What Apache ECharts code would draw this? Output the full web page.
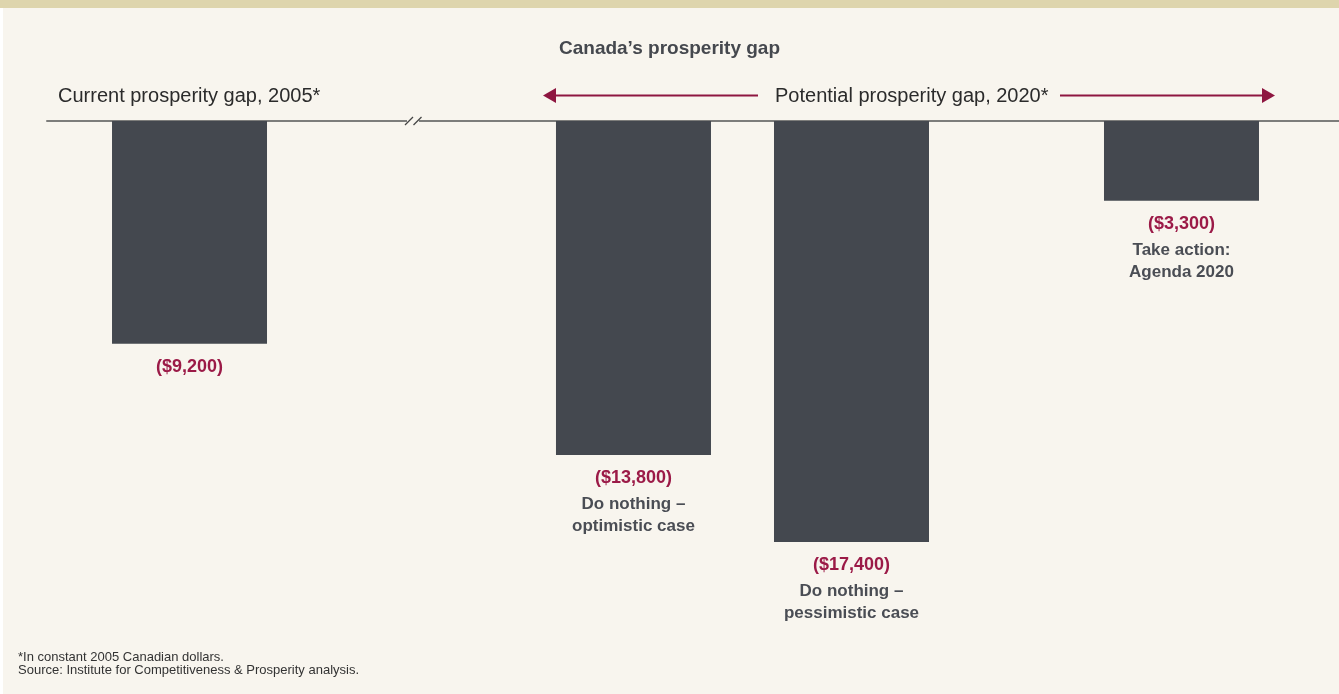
<!DOCTYPE html>
<html>
<head>
<meta charset="utf-8">
<script src="https://cdn.jsdelivr.net/npm/echarts@6/dist/echarts.min.js"></script>
<style>
  html, body { margin: 0; padding: 0; background: #f8f5ee; }
  #chart { width: 1339px; height: 694px; }
</style>
</head>
<body>
<div id="chart"></div>
<script>
// ---- data ----
const categories = ['Current prosperity gap, 2005', 'Do nothing – optimistic case', 'Do nothing – pessimistic case', 'Take action: Agenda 2020'];
const values = [-9200, -13800, -17400, -3300];
const descriptions = [[], ['Do nothing –', 'optimistic case'], ['Do nothing –', 'pessimistic case'], ['Take action:', 'Agenda 2020']];
const chartTitle = 'Canada’s prosperity gap';
const currentLabel = 'Current prosperity gap, 2005*';
const potentialLabel = 'Potential prosperity gap, 2020*';
const footnotes = ['*In constant 2005 Canadian dollars.', 'Source: Institute for Competitiveness & Prosperity analysis.'];

// ---- layout (horizontal slot for each bar) ----
const SLOT = [0, 4.028, 6.006, 9];

const RED = '#8e1640';
const BG = '#f8f5ee';
const FONT = '"Liberation Sans", Arial, Helvetica, sans-serif';

const fmt = v => '($' + Math.abs(v).toLocaleString('en-US') + ')';

const chart = echarts.init(document.getElementById('chart'));
chart.setOption({
  backgroundColor: BG,
  animation: false,
  textStyle: { fontFamily: FONT },
  title: {
    text: chartTitle,
    left: 'center',
    top: 34,
    textStyle: { fontFamily: FONT, fontSize: 19, fontWeight: 'bold', color: '#45484e' }
  },
  grid: { left: 47, right: 0, top: 121, bottom: 89 },
  xAxis: {
    type: 'value',
    min: -1.293,
    max: 10.429,
    position: 'top',
    axisLine: { show: true, onZero: false, lineStyle: { color: '#7d7d7b', width: 2 } },
    axisTick: { show: false },
    axisLabel: { show: false },
    splitLine: { show: false }
  },
  yAxis: {
    type: 'value',
    min: -20000,
    max: 0,
    show: false,
    splitLine: { show: false }
  },
  series: [{
    type: 'bar',
    barWidth: 155,
    z: 1,
    itemStyle: { color: '#44484f' },
    data: values.map((v, i) => ({ name: categories[i], value: [SLOT[i], v] })),
    label: {
      show: true,
      position: 'bottom',
      distance: 8,
      align: 'center',
      formatter: p => {
        const i = p.dataIndex;
        let s = '{v|' + fmt(values[i]) + '}';
        descriptions[i].forEach(line => { s += '\n{d|' + line + '}'; });
        return s;
      },
      rich: {
        v: { fontFamily: FONT, fontSize: 18, fontWeight: 'bold', color: '#9b1a47', lineHeight: 30, align: 'center' },
        d: { fontFamily: FONT, fontSize: 17, fontWeight: 'bold', color: '#4a4d54', lineHeight: 22, align: 'center' }
      }
    }
  }],
  graphic: [
    // top banner
    { type: 'rect', shape: { x: 0, y: 0, width: 1339, height: 8 }, style: { fill: '#ded5ad' }, silent: true },
    { type: 'rect', shape: { x: 0, y: 8, width: 3, height: 686 }, style: { fill: '#ffffff' }, silent: true },
    // axis break
    { type: 'rect', shape: { x: 407, y: 118, width: 12, height: 6 }, style: { fill: BG }, z: 100 },
    { type: 'line', shape: { x1: 405, y1: 125, x2: 413, y2: 117 }, style: { stroke: '#444', lineWidth: 1.3 }, z: 101 },
    { type: 'line', shape: { x1: 413.5, y1: 125, x2: 421.5, y2: 117 }, style: { stroke: '#444', lineWidth: 1.3 }, z: 101 },
    // labels above axis
    { type: 'text', x: 58, y: 96, style: { text: currentLabel, font: '20px ' + FONT, fill: '#2b2b2b', textAlign: 'left', textVerticalAlign: 'middle' } },
    { type: 'text', x: 775, y: 96, style: { text: potentialLabel, font: '20px ' + FONT, fill: '#2b2b2b', textAlign: 'left', textVerticalAlign: 'middle' } },
    // arrows
    { type: 'line', shape: { x1: 553, y1: 95.5, x2: 758, y2: 95.5 }, style: { stroke: RED, lineWidth: 2 } },
    { type: 'polygon', shape: { points: [[543, 95.5], [556, 88], [556, 103]] }, style: { fill: RED } },
    { type: 'line', shape: { x1: 1060, y1: 95.5, x2: 1265, y2: 95.5 }, style: { stroke: RED, lineWidth: 2 } },
    { type: 'polygon', shape: { points: [[1275, 95.5], [1262, 88], [1262, 103]] }, style: { fill: RED } },
    // footnotes
    { type: 'text', x: 18, y: 657.5, style: { text: footnotes[0], font: '13px ' + FONT, fill: '#333333', textAlign: 'left', textVerticalAlign: 'middle' } },
    { type: 'text', x: 18, y: 670.5, style: { text: footnotes[1], font: '13px ' + FONT, fill: '#333333', textAlign: 'left', textVerticalAlign: 'middle' } }
  ]
});
</script>
</body>
</html>
